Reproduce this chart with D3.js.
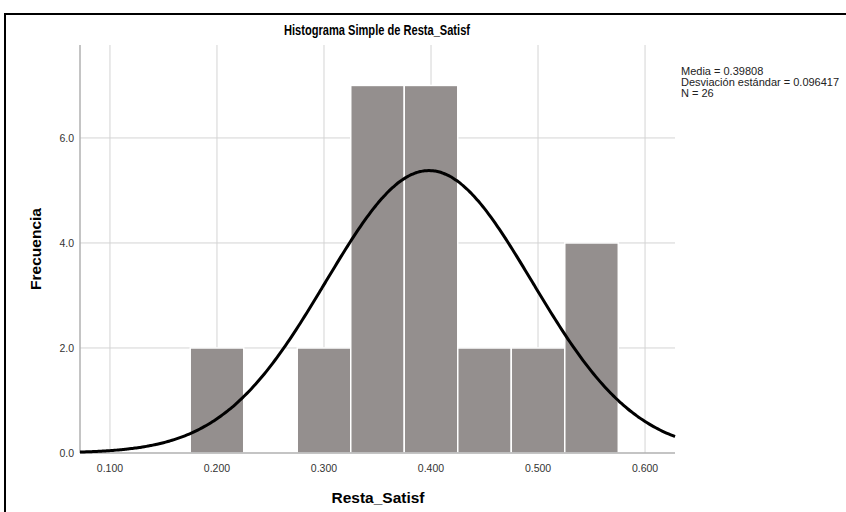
<!DOCTYPE html>
<html>
<head>
<meta charset="utf-8">
<script src="https://cdn.jsdelivr.net/npm/d3@7"></script>
<style>
  body { margin: 0; background: #fff; }
  text { font-family: "Liberation Sans", Arial, sans-serif; }
</style>
</head>
<body>
<script>
const width = 846;
const height = 512;

// bins (lower edge, upper edge) and counts
const binStart = [0.175, 0.225, 0.275, 0.325, 0.375, 0.425, 0.475, 0.525];
const binEnd   = [0.225, 0.275, 0.325, 0.375, 0.425, 0.475, 0.525, 0.575];
const counts   = [2, 0, 2, 7, 7, 2, 2, 4];
const xTicks = [0.1, 0.2, 0.3, 0.4, 0.5, 0.6];
const yTicks = [0, 2, 4, 6];
const mean = 0.39808;
const sd = 0.096417;
const n = 26;
const binWidth = 0.05;
const statLines = ["Media = 0.39808", "Desviación estándar = 0.096417", "N = 26"];

const plotLeft = 80, plotRight = 675, plotTop = 45, plotBottom = 453;

const svg = d3.select("body").append("svg")
    .attr("width", width)
    .attr("height", height);

// outer frame
svg.append("rect")
    .attr("x", 5).attr("y", 14)
    .attr("width", 900).attr("height", 600)
    .attr("fill", "none")
    .attr("stroke", "#000")
    .attr("stroke-width", 2);

const x = d3.scaleLinear().domain([0.072, 0.628]).range([plotLeft, plotRight]);
const y = d3.scaleLinear().domain([0, 7.77]).range([plotBottom, plotTop]);

// grid
svg.append("g").selectAll("line").data(xTicks).join("line")
    .attr("x1", d => x(d)).attr("x2", d => x(d))
    .attr("y1", plotTop).attr("y2", plotBottom)
    .attr("stroke", "#d4d4d4").attr("stroke-width", 1);
svg.append("g").selectAll("line").data(yTicks.filter(d => d > 0)).join("line")
    .attr("x1", plotLeft).attr("x2", plotRight)
    .attr("y1", d => y(d)).attr("y2", d => y(d))
    .attr("stroke", "#d4d4d4").attr("stroke-width", 1);

// bars
svg.append("g").selectAll("rect").data(counts).join("rect")
    .attr("x", (d, i) => x(binStart[i]))
    .attr("width", (d, i) => x(binEnd[i]) - x(binStart[i]))
    .attr("y", d => y(d))
    .attr("height", d => plotBottom - y(d))
    .attr("fill", "#948f8e")
    .attr("stroke", "#fff")
    .attr("stroke-width", 1.5);

// axes lines
svg.append("line")
    .attr("x1", plotLeft).attr("x2", plotLeft).attr("y1", plotTop).attr("y2", plotBottom)
    .attr("stroke", "#b0b0b0").attr("stroke-width", 1.5);
svg.append("line")
    .attr("x1", plotLeft).attr("x2", plotRight).attr("y1", plotBottom).attr("y2", plotBottom)
    .attr("stroke", "#b0b0b0").attr("stroke-width", 1.5);

// normal curve
const curvePts = d3.range(0.072, 0.6281, 0.002).map(v => [v,
    n * binWidth * Math.exp(-0.5 * ((v - mean) / sd) ** 2) / (sd * Math.sqrt(2 * Math.PI))]);
svg.append("path")
    .datum(curvePts)
    .attr("d", d3.line().x(d => x(d[0])).y(d => y(d[1])).curve(d3.curveBasis))
    .attr("fill", "none")
    .attr("stroke", "#000")
    .attr("stroke-width", 3);

// tick labels
svg.append("g").selectAll("text").data(xTicks).join("text")
    .attr("x", d => x(d)).attr("y", 472)
    .attr("text-anchor", "middle")
    .attr("font-size", 10.5).attr("fill", "#333")
    .text(d => d.toFixed(3));
svg.append("g").selectAll("text").data(yTicks).join("text")
    .attr("x", 74).attr("y", d => y(d) + 4)
    .attr("text-anchor", "end")
    .attr("font-size", 10.5).attr("fill", "#333")
    .text(d => d.toFixed(1));

// titles
svg.append("text")
    .attr("x", 377).attr("y", 35)
    .attr("text-anchor", "middle")
    .attr("font-size", 15).attr("font-weight", "bold")
    .attr("textLength", 186).attr("lengthAdjust", "spacingAndGlyphs")
    .text("Histograma Simple de Resta_Satisf");
svg.append("text")
    .attr("x", 378).attr("y", 503)
    .attr("text-anchor", "middle")
    .attr("font-size", 15.5).attr("font-weight", "bold")
    .text("Resta_Satisf");
svg.append("text")
    .attr("transform", "translate(41,249) rotate(-90)")
    .attr("text-anchor", "middle")
    .attr("font-size", 15.5).attr("font-weight", "bold")
    .text("Frecuencia");

// stats
svg.append("g").selectAll("text").data(statLines).join("text")
    .attr("x", 681).attr("y", (d, i) => 75 + i * 10.8)
    .attr("font-size", 11).attr("fill", "#222")
    .text(d => d);
</script>
</body>
</html>
